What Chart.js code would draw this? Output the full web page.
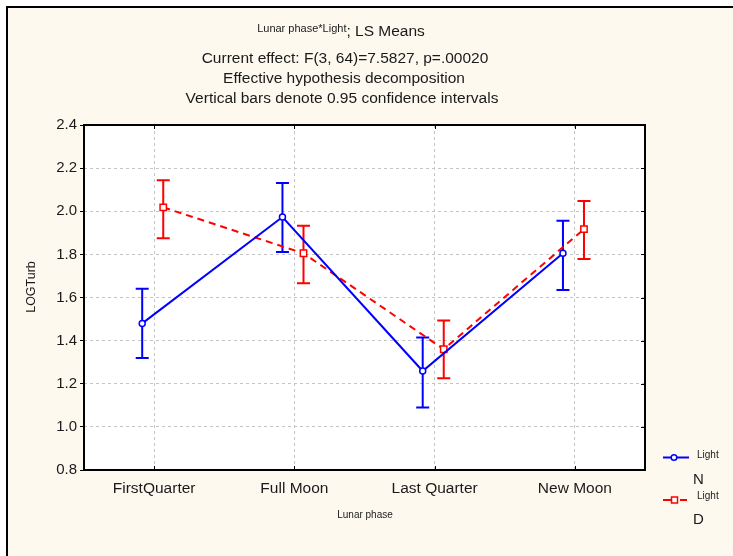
<!DOCTYPE html>
<html>
<head>
<meta charset="utf-8">
<script src="https://cdn.jsdelivr.net/npm/chart.js@4/dist/chart.umd.min.js"></script>
<style>
  body { margin: 0; background: #fff; }
  canvas { display: block; }
</style>
</head>
<body>
<canvas id="chart" width="733" height="556"></canvas>
<script>
// Lunar phase x Light, LS means with 0.95 confidence intervals
const categories = ["FirstQuarter", "Full Moon", "Last Quarter", "New Moon"]
const yTicks = [0.8, 1.0, 1.2, 1.4, 1.6, 1.8, 2.0, 2.2, 2.4]

const lightN = [1.48, 1.973, 1.259, 1.805]
const lightNLow = [1.32, 1.811, 1.09, 1.635]
const lightNHigh = [1.641, 2.131, 1.414, 1.956]

const lightD = [2.018, 1.805, 1.36, 1.917]
const lightDLow = [1.875, 1.666, 1.225, 1.779]
const lightDHigh = [2.144, 1.933, 1.493, 2.048]

const FONT = "'Liberation Sans', Arial, sans-serif"
const TEXT = "#1a1a1a"
const BLUE = "rgb(0,0,255)"
const RED = "rgb(255,0,0)"
const N_SHIFT = -0.085
const D_SHIFT = 0.065

const pts = (vals, shift) => vals.map((v, i) => ({ x: i + 1 + shift, y: v }))

const errorBars = {
    id: "errorBars",
    beforeDatasetsDraw(chart) {
        const { ctx, scales: { x, y } } = chart
        const sets = [
            { low: lightNLow, high: lightNHigh, shift: N_SHIFT, color: BLUE },
            { low: lightDLow, high: lightDHigh, shift: D_SHIFT, color: RED }
        ]
        ctx.save()
        ctx.lineWidth = 2
        sets.forEach(s => {
            ctx.strokeStyle = s.color
            s.low.forEach((lo, i) => {
                const px = x.getPixelForValue(i + 1 + s.shift)
                const y1 = y.getPixelForValue(lo)
                const y2 = y.getPixelForValue(s.high[i])
                ctx.beginPath()
                ctx.moveTo(px, y1); ctx.lineTo(px, y2)
                ctx.moveTo(px - 6.5, y1); ctx.lineTo(px + 6.5, y1)
                ctx.moveTo(px - 6.5, y2); ctx.lineTo(px + 6.5, y2)
                ctx.stroke()
            })
        })
        ctx.restore()
    }
}

const frame = {
    id: "frame",
    beforeDraw(chart) {
        const { ctx, chartArea: a } = chart
        ctx.save()
        ctx.fillStyle = "#fdf9ef"
        ctx.fillRect(7, 7, 733, 556)
        ctx.fillStyle = "#000"
        ctx.fillRect(6, 6, 727, 2)
        ctx.fillRect(6, 6, 2, 550)
        ctx.fillStyle = "#fff"
        ctx.fillRect(a.left, a.top, a.right - a.left, a.bottom - a.top)
        ctx.restore()
    },
    afterDraw(chart) {
        const { ctx, chartArea: a, scales: { x, y } } = chart
        ctx.save()
        // plot frame
        ctx.strokeStyle = "#000"
        ctx.lineWidth = 2
        ctx.strokeRect(a.left, a.top, a.right - a.left, a.bottom - a.top)
        // inward ticks
        ctx.lineWidth = 1
        ctx.beginPath()
        x.ticks.forEach(t => {
            const px = Math.round(x.getPixelForValue(t.value)) + 0.5
            ctx.moveTo(px, a.bottom); ctx.lineTo(px, a.bottom - 4)
            ctx.moveTo(px, a.top); ctx.lineTo(px, a.top + 4)
        })
        y.ticks.forEach(t => {
            const py = Math.round(y.getPixelForValue(t.value)) + 0.5
            ctx.moveTo(a.right, py); ctx.lineTo(a.right - 4, py)
        })
        ctx.stroke()

        // titles
        ctx.fillStyle = TEXT
        ctx.textBaseline = "middle"
        ctx.textAlign = "left"
        const sup = "Lunar phase*Light"
        const main = "; LS Means"
        ctx.font = "11px " + FONT
        const w1 = ctx.measureText(sup).width
        ctx.font = "15.5px " + FONT
        const w2 = ctx.measureText(main).width
        const start = 341 - (w1 + w2) / 2
        ctx.font = "11px " + FONT
        ctx.fillText(sup, start, 29)
        ctx.font = "15.5px " + FONT
        ctx.fillText(main, start + w1, 32)
        ctx.textAlign = "center"
        ctx.fillText("Current effect: F(3, 64)=7.5827, p=.00020", 345, 59)
        ctx.fillText("Effective hypothesis decomposition", 344, 79)
        ctx.fillText("Vertical bars denote 0.95 confidence intervals", 342, 98.5)

        // axis titles
        ctx.font = "10px " + FONT
        ctx.fillText("Lunar phase", 365, 515)
        ctx.save()
        ctx.translate(32, 287)
        ctx.rotate(-Math.PI / 2)
        ctx.font = "12.5px " + FONT
        ctx.fillText("LOGTurb", 0, 0)
        ctx.restore()

        // legend
        ctx.lineWidth = 2
        ctx.strokeStyle = BLUE
        ctx.beginPath(); ctx.moveTo(663, 457.5); ctx.lineTo(689, 457.5); ctx.stroke()
        ctx.fillStyle = "#fff"; ctx.lineWidth = 1.5
        ctx.beginPath(); ctx.arc(674, 457.5, 2.8, 0, Math.PI * 2); ctx.fill(); ctx.stroke()
        ctx.strokeStyle = RED; ctx.lineWidth = 2
        ctx.beginPath(); ctx.moveTo(663, 500); ctx.lineTo(671, 500); ctx.moveTo(680, 500); ctx.lineTo(687, 500); ctx.stroke()
        ctx.lineWidth = 1.5
        ctx.fillRect(671.5, 497, 6, 6); ctx.strokeRect(671.5, 497, 6, 6)
        ctx.fillStyle = TEXT
        ctx.textAlign = "left"
        ctx.font = "10px " + FONT
        ctx.fillText("Light", 697, 455)
        ctx.fillText("Light", 697, 496)
        ctx.font = "15px " + FONT
        ctx.fillText("N", 693, 480)
        ctx.fillText("D", 693, 520)
        ctx.restore()
    }
}

new Chart(document.getElementById("chart"), {
    type: "scatter",
    data: {
        datasets: [
            {
                label: "Light N",
                data: pts(lightN, N_SHIFT),
                showLine: true,
                borderColor: BLUE,
                borderWidth: 2,
                pointStyle: "circle",
                pointRadius: 3,
                pointBorderWidth: 1.5,
                pointBackgroundColor: "#fff",
                pointBorderColor: BLUE
            },
            {
                label: "Light D",
                data: pts(lightD, D_SHIFT),
                showLine: true,
                borderColor: RED,
                borderWidth: 2,
                borderDash: [7, 5],
                pointStyle: "rect",
                pointRadius: 4.5,
                pointBorderWidth: 1.5,
                pointBackgroundColor: "#fff",
                pointBorderColor: RED
            }
        ]
    },
    options: {
        responsive: false,
        animation: false,
        devicePixelRatio: 1,
        layout: { padding: { top: 125, right: 88, left: 0, bottom: 0 } },
        plugins: { legend: { display: false }, tooltip: { enabled: false } },
        scales: {
            x: {
                type: "linear",
                min: 0.5,
                max: 4.5,
                afterBuildTicks: s => { s.ticks = categories.map((c, i) => ({ value: i + 1 })) },
                afterFit: s => { s.height = 86 },
                border: { display: false, dash: [3, 3] },
                grid: { color: "#c4c4c4", drawTicks: false },
                ticks: {
                    padding: 9,
                    color: TEXT,
                    font: { family: FONT, size: 15.5 },
                    callback: v => categories[v - 1]
                }
            },
            y: {
                min: 0.8,
                max: 2.4,
                afterBuildTicks: s => { s.ticks = yTicks.map(v => ({ value: v })) },
                afterFit: s => { s.width = 84 },
                border: { display: false, dash: [3, 3] },
                grid: {
                    color: "#c4c4c4",
                    tickLength: 4,
                    tickColor: "#000",
                    tickBorderDash: [],
                    tickWidth: 1
                },
                ticks: {
                    padding: 3,
                    color: TEXT,
                    font: { family: FONT, size: 15 },
                    callback: v => v.toFixed(1)
                }
            }
        }
    },
    plugins: [frame, errorBars]
})
</script>
</body>
</html>
